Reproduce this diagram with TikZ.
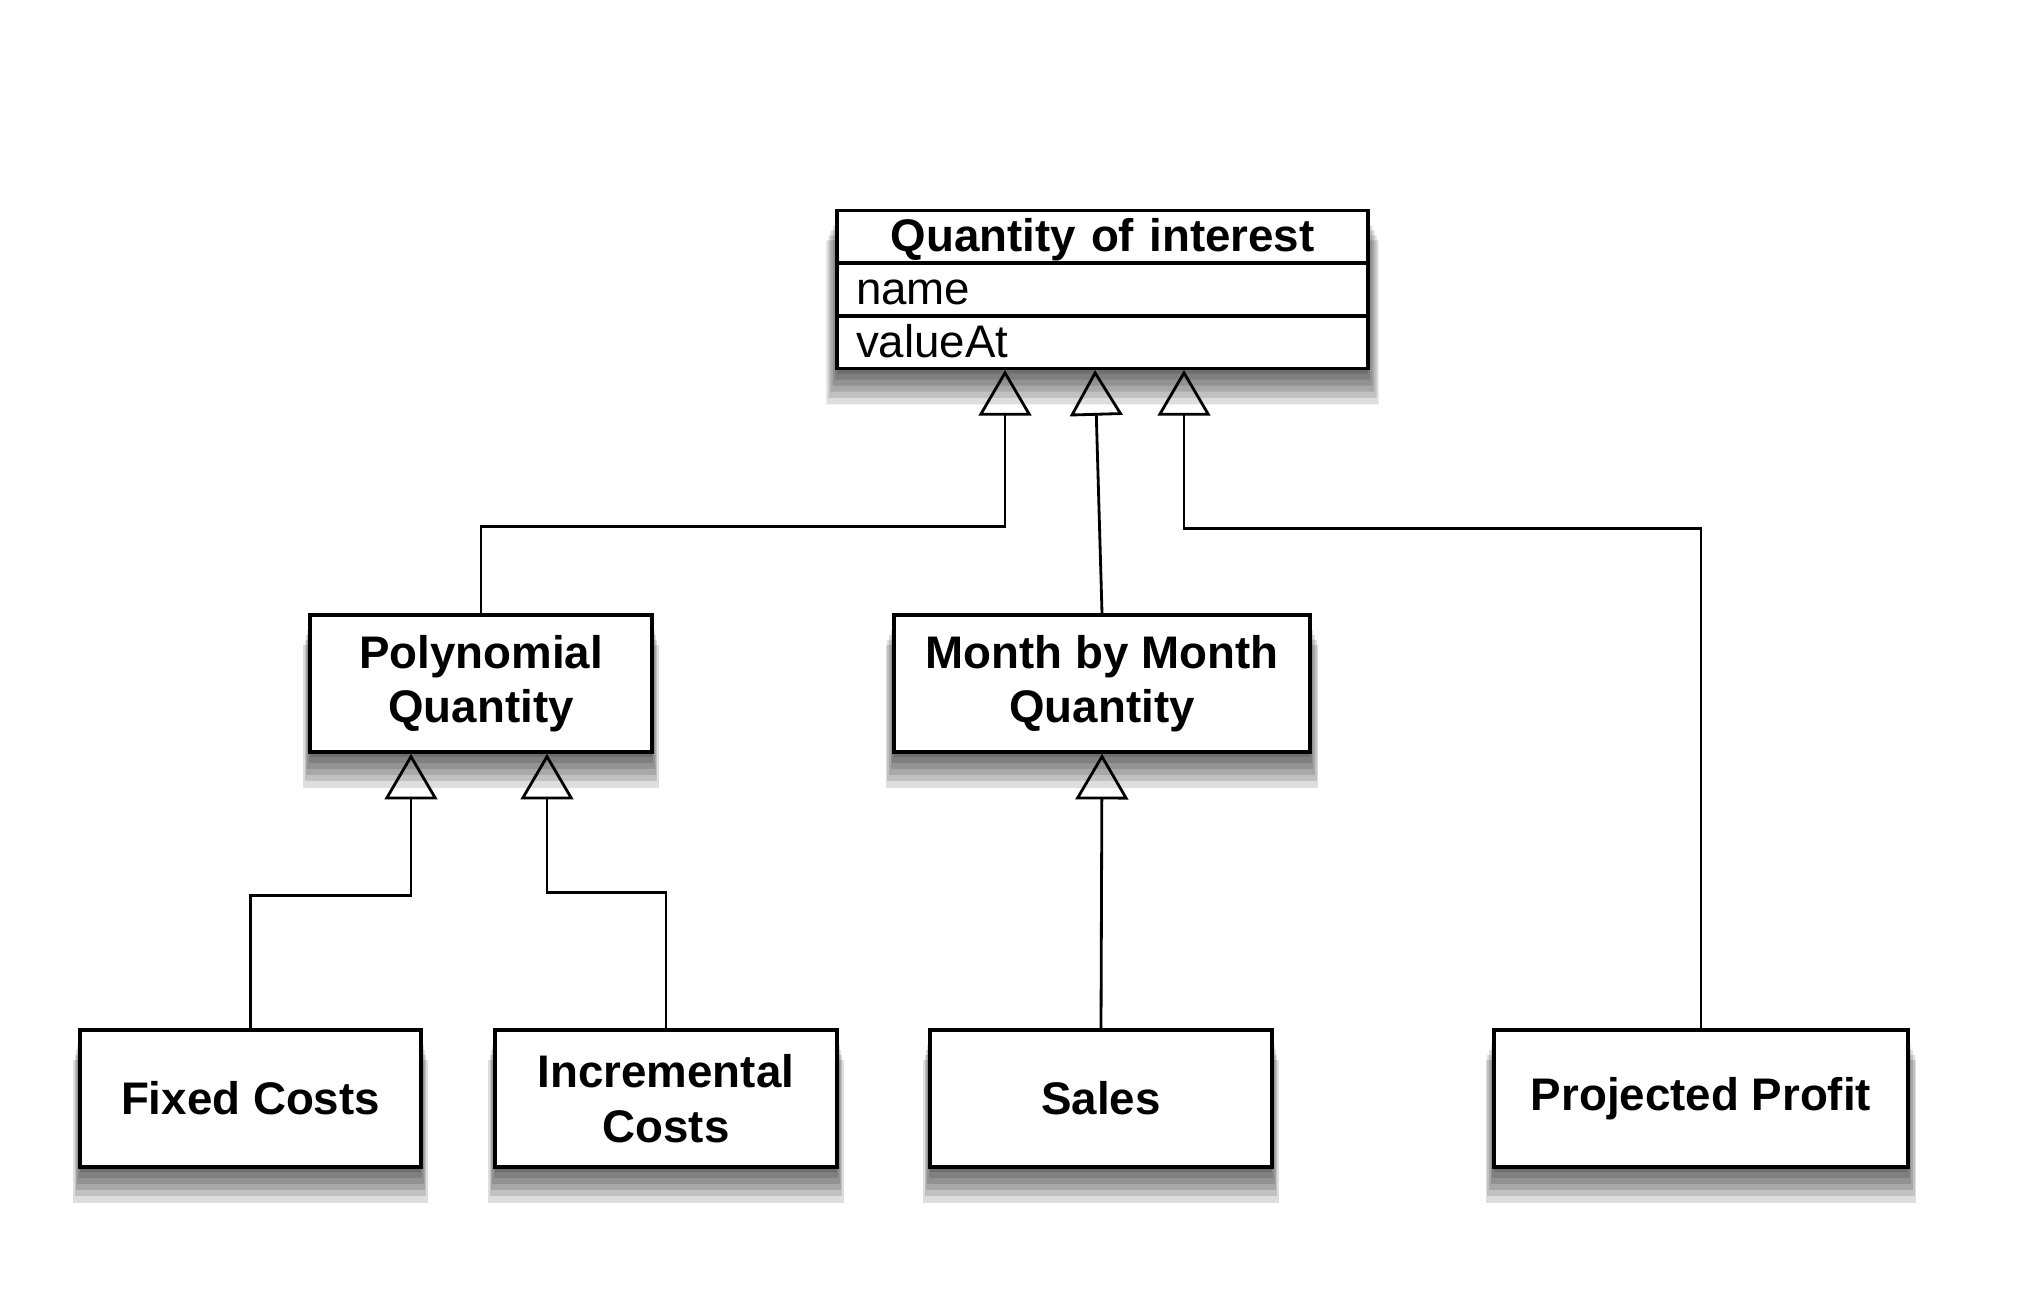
\documentclass[tikz,border=0pt]{standalone}
\usepackage{fontspec}
\setmainfont{Liberation Sans}
\usetikzlibrary{shapes,positioning,calc,arrows.meta,shadows}

\begin{document}
\begin{tikzpicture}
        % Box sizes
        \pgfmathsetmacro{\boxheight}{1.37}
        \pgfmathsetmacro{\narrowbox}{3.42}
        \pgfmathsetmacro{\widebox}{4.14}

        % Styles for the class boxes and the inheritance arrows
        \tikzset{
            layer/.style={general shadow={fill=black, opacity=0.13, #1}},
            shade/.style={
                layer={shadow yshift=-9pt, shadow scale=1.04},
                layer={shadow yshift=-7.5pt, shadow scale=1.032},
                layer={shadow yshift=-6pt, shadow scale=1.024},
                layer={shadow yshift=-4.5pt, shadow scale=1.016},
                layer={shadow yshift=-3pt, shadow scale=1.008},
                layer={shadow yshift=-1.5pt}},
            classbox/.style={draw, fill=white, line width=1pt, shade,
                align=center, inner sep=0pt, minimum height=\boxheight cm,
                font=\fontsize{13}{15.5}\selectfont\bfseries},
            inherits/.style={line width=0.8pt,
                -{Triangle[open, width=15pt, length=13pt, line width=0.8pt]}},
        }

        \fill [white] (0, 0) rectangle (20.18, 12.96);

        % Top class with its two attributes
        \node [draw, fill=white, line width=1pt, shade,
            rectangle split, rectangle split parts=3,
            text width=4.93cm, inner xsep=0.19cm, inner ysep=0pt,
            font=\fontsize{13}{15.5}\selectfont] (qoi) at (11.025, 10.065)
            {\rule[-0.10cm]{0pt}{0.49cm}\makebox[4.93cm][c]{\textbf{Quantity of interest}}
            \nodepart{two}\rule[-0.09cm]{0pt}{0.49cm}name
            \nodepart{three}\rule[-0.09cm]{0pt}{0.49cm}valueAt};

        % Middle row
        \node [classbox, minimum width=\narrowbox cm] (poly) at (4.81, 6.125)
            {Polynomial\\Quantity};
        \node [classbox, minimum width=4.16cm] (month) at (11.02, 6.125)
            {Month by Month\\Quantity};

        % Bottom row
        \node [classbox, minimum width=3.41cm] (fixed) at (2.505, 1.975)
            {Fixed Costs};
        \node [classbox, minimum width=\narrowbox cm] (incr) at (6.66, 1.975)
            {Incremental\\Costs};
        \node [classbox, minimum width=\narrowbox cm] (sales) at (11.01, 1.975)
            {Sales};
        \node [classbox, minimum width=\widebox cm] (profit) at (17.01, 1.975)
            {Projected Profit};

        % Arrow ends below the boxes
        \coordinate (qa) at ($(qoi.south) + (-0.975, 0)$);
        \coordinate (qb) at ($(qoi.south) + (-0.075, 0)$);
        \coordinate (qc) at ($(qoi.south) + (0.815, 0)$);
        \coordinate (pa) at ($(poly.south) + (-0.70, 0)$);
        \coordinate (pb) at ($(poly.south) + (0.66, 0)$);

        \begin{scope}[inherits]
            \draw (poly.north) -- ++(0, 0.87) -| (qa);
            \draw (month.north) -- (qb);
            \draw (profit.north) -- ++(0, 5.0) -| (qc);
            \draw (fixed.north) -- ++(0, 1.33) -| (pa);
            \draw (incr.north) -- ++(0, 1.36) -| (pb);
            \draw (sales.north) -- (month.south);
        \end{scope}
\end{tikzpicture}
\end{document}
